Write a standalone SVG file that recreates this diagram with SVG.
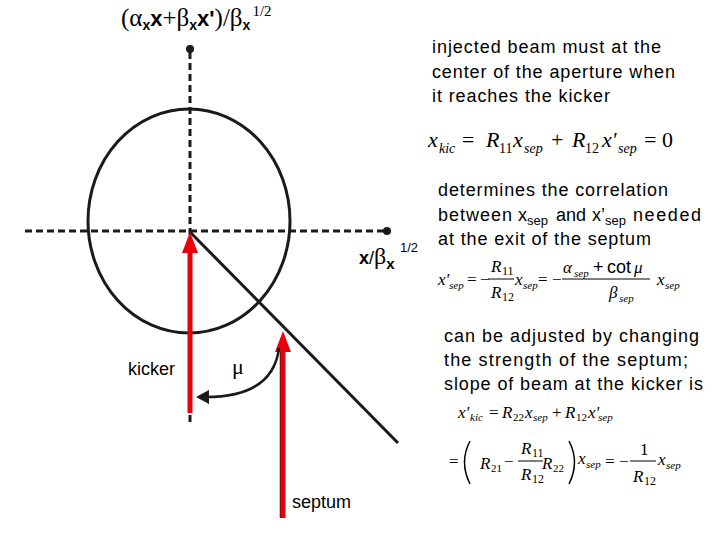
<svg xmlns="http://www.w3.org/2000/svg" width="720" height="540" viewBox="0 0 720 540">
<style>
.t{font-family:"Liberation Sans",Arial,sans-serif;font-size:18px;fill:#000}
.m{font-family:"Liberation Serif","Times New Roman",serif;fill:#000}
.i{font-style:italic}
.b{font-family:"Liberation Sans",Arial,sans-serif;font-weight:bold}
.ax{stroke:#1a1a1a;stroke-width:3;stroke-dasharray:7 4;fill:none}
.red{stroke:#e8000b;stroke-width:5;fill:none}
.bar{stroke:#000;stroke-width:1}
</style>
<rect width="720" height="540" fill="#fff"/>
<g id="axes">
<line class="ax" x1="190" y1="52" x2="190" y2="422"/>
<circle cx="190" cy="49" r="4" fill="#1a1a1a"/>
<line class="ax" x1="25" y1="231" x2="385" y2="231"/>
<circle cx="387" cy="231" r="4" fill="#1a1a1a"/>
</g>
<g id="circle"><ellipse cx="189" cy="221" rx="101" ry="112" fill="none" stroke="#1a1a1a" stroke-width="3"/></g>
<g id="connectors">
<line x1="190" y1="232" x2="398" y2="443" stroke="#1a1a1a" stroke-width="3"/>
<line class="red" x1="190" y1="413" x2="190" y2="248"/>
<polygon points="190,232 182,253 198,253" fill="#e8000b"/>
<line x1="280.5" y1="352" x2="280.5" y2="518" stroke="#3a1010" stroke-width="1.5"/>
<line class="red" x1="283" y1="518" x2="283" y2="348"/>
<polygon points="283,331 275,352 291,352" fill="#e8000b"/>
<path d="M279,348 Q273,397 206,397" fill="none" stroke="#1a1a1a" stroke-width="2.5"/>
<polygon points="196,397 209,390 209,404" fill="#1a1a1a"/>
</g>
<g id="labels">
<text class="t" x="128" y="375" font-size="19">kicker</text>
<text class="m" x="232" y="374" font-size="22">μ</text>
<text class="t" x="292" y="508">septum</text>
<text class="t" x="359" y="264" font-size="23"><tspan style="font-weight:600">x</tspan>/<tspan class="m" font-size="24">β</tspan><tspan font-size="15" dy="5" style="font-weight:600">x</tspan><tspan x="400" dy="-17" font-size="13">1/2</tspan></text>
<text x="121" y="26" font-size="25"><tspan class="m">(α</tspan><tspan class="b" font-size="14" dy="4">x</tspan><tspan class="b" font-size="22" dy="-4">x</tspan><tspan class="m">+β</tspan><tspan class="b" font-size="14" dy="4">x</tspan><tspan class="b" font-size="22" dy="-4">x'</tspan><tspan class="m">)/β</tspan><tspan class="b" font-size="14" dy="4">x</tspan><tspan class="m" font-size="15" dy="-14" dx="2">1/2</tspan></text>
</g>
<g id="text1">
<text class="t" x="432" y="53" textLength="229" lengthAdjust="spacing">injected beam must at the</text>
<text class="t" x="432" y="78" textLength="243" lengthAdjust="spacing">center of the aperture when</text>
<text class="t" x="432" y="102" textLength="178" lengthAdjust="spacing">it reaches the kicker</text>
</g>
<g id="eq1" class="m" font-size="22">
<text x="428" y="147" class="m i">x</text>
<text x="439" y="153" class="m i" font-size="14">kic</text>
<text x="462" y="147" class="m">=</text>
<text x="486" y="147" class="m i">R</text>
<text x="499" y="153" class="m" font-size="14">11</text>
<text x="513" y="147" class="m i">x</text>
<text x="524" y="153" class="m i" font-size="14">sep</text>
<text x="551" y="147" class="m">+</text>
<text x="572" y="147" class="m i">R</text>
<text x="585" y="153" class="m" font-size="14">12</text>
<text x="602" y="147" class="m i">x'</text>
<text x="618" y="153" class="m i" font-size="14">sep</text>
<text x="644" y="147" class="m">=</text>
<text x="662" y="147" class="m">0</text>
</g>
<g id="text2">
<text class="t" x="438" y="196" textLength="230" lengthAdjust="spacing">determines the correlation</text>
<text class="t" x="438" y="221"><tspan textLength="74" lengthAdjust="spacing">between</tspan><tspan x="518">x</tspan><tspan font-size="13" dy="4">sep</tspan><tspan x="556" dy="-4">and</tspan><tspan x="592">x’</tspan><tspan font-size="13" dy="4">sep</tspan><tspan x="633" dy="-4" textLength="68" lengthAdjust="spacing">needed</tspan></text>
<text class="t" x="438" y="245" textLength="213" lengthAdjust="spacing">at the exit of the septum</text>
</g>
<g id="eq2" font-size="17">
<text x="438" y="285" class="m i">x'</text>
<text x="449" y="289" class="m i" font-size="11">sep</text>
<text x="467" y="285" class="m">=</text>
<text x="480" y="285" class="m">−</text>
<text x="491" y="272" class="m i">R</text>
<text x="502" y="275" class="m" font-size="12">11</text>
<line class="bar" x1="488" y1="279" x2="514" y2="279"/>
<text x="491" y="298" class="m i">R</text>
<text x="502" y="301" class="m" font-size="12">12</text>
<text x="515" y="285" class="m i">x</text>
<text x="523" y="289" class="m i" font-size="11">sep</text>
<text x="538" y="285" class="m">=</text>
<text x="552" y="285" class="m">−</text>
<text x="563" y="273" class="m i">α</text>
<text x="574" y="277" class="m i" font-size="11">sep</text>
<text x="593" y="273" class="t" font-size="16">+</text>
<text x="607" y="273" class="t" font-size="16">cot</text>
<text x="634" y="273" class="m i">μ</text>
<line class="bar" x1="562" y1="279" x2="650" y2="279"/>
<text x="609" y="298" class="m i">β</text>
<text x="619" y="302" class="m i" font-size="11">sep</text>
<text x="657" y="285" class="m i">x</text>
<text x="665" y="289" class="m i" font-size="11">sep</text>
</g>
<g id="text3">
<text class="t" x="444" y="342" textLength="255" lengthAdjust="spacing">can be adjusted by changing</text>
<text class="t" x="444" y="366" textLength="244" lengthAdjust="spacing">the strength of the septum;</text>
<text class="t" x="444" y="390" textLength="259" lengthAdjust="spacing">slope of beam at the kicker is</text>
</g>
<g id="eq3" font-size="17">
<text x="458" y="418" class="m i">x'</text>
<text x="470" y="421" class="m i" font-size="11">kic</text>
<text x="489" y="418" class="m">=</text>
<text x="502" y="418" class="m i">R</text>
<text x="513" y="421" class="m" font-size="11">22</text>
<text x="525" y="418" class="m i">x</text>
<text x="533" y="421" class="m i" font-size="11">sep</text>
<text x="552" y="418" class="m">+</text>
<text x="565" y="418" class="m i">R</text>
<text x="576" y="421" class="m" font-size="11">12</text>
<text x="588" y="418" class="m i">x'</text>
<text x="598" y="421" class="m i" font-size="11">sep</text>
<text x="449" y="467" class="m">=</text>
<path d="M470,441 Q459,462 470,484" fill="none" stroke="#000" stroke-width="1.5"/>
<text x="480" y="469" class="m i">R</text>
<text x="491" y="472" class="m" font-size="11">21</text>
<text x="504" y="467" class="m">−</text>
<text x="521" y="454" class="m i">R</text>
<text x="532" y="457" class="m" font-size="12">11</text>
<line class="bar" x1="518" y1="461" x2="543" y2="461"/>
<text x="521" y="480" class="m i">R</text>
<text x="532" y="483" class="m" font-size="12">12</text>
<text x="542" y="469" class="m i">R</text>
<text x="553" y="472" class="m" font-size="11">22</text>
<path d="M569,441 Q580,462 569,484" fill="none" stroke="#000" stroke-width="1.5"/>
<text x="578" y="464" class="m i">x</text>
<text x="586" y="468" class="m i" font-size="11">sep</text>
<text x="605" y="467" class="m">=</text>
<text x="619" y="467" class="m">−</text>
<text x="640" y="455" class="m">1</text>
<line class="bar" x1="630" y1="461" x2="656" y2="461"/>
<text x="633" y="482" class="m i">R</text>
<text x="644" y="485" class="m" font-size="12">12</text>
<text x="658" y="465" class="m i">x</text>
<text x="666" y="469" class="m i" font-size="11">sep</text>
</g>
</svg>
